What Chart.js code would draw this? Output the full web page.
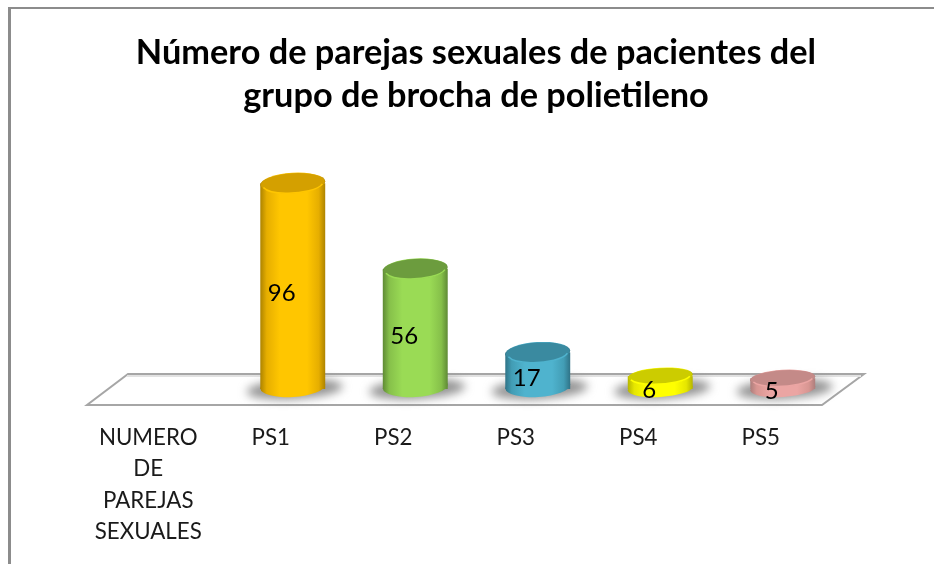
<!DOCTYPE html>
<html><head><meta charset="utf-8">
<style>html,body{margin:0;padding:0;background:#fff}#w{width:934px;height:564px;position:relative}</style>
<script src="https://cdn.jsdelivr.net/npm/chart.js@4"></script>
</head><body><div id="w"><canvas id="c" width="934" height="564"></canvas></div>
<script>
const categories = [['NUMERO','DE','PAREJAS','SEXUALES'],'PS1','PS2','PS3','PS4','PS5'];
const values = [null,96,56,17,6,5];
const titleLines = ['Número de parejas sexuales de pacientes del','grupo de brocha de polietileno'];
const brightColors = ['#000','#FFC600','#9ADB55','#4FB3CE','#FFFF00','#EBA5A3'];
const midColors    = ['#000','#E6AE00','#86C04A','#429DB5','#E6E600','#D89692'];
const edgeColors   = ['#000','#AD8300','#5F8A35','#2F7387','#B5B500','#AD7E7C'];
const capColors    = ['#000','#D4A000','#6C9C3E','#3A8AA0','#CCCC00','#C48A88'];

const depthX = 22, depthY = -16, rx = 32.5, tilt = -0.06;
function capRy(i){return values[i]<10 ? 8.5 : 10.5;}
function ell(ctx,x,y,a,b){ctx.beginPath();ctx.ellipse(x,y,a,b,tilt,0,Math.PI*2);}
function barsOf(chart){return chart.getDatasetMeta(0).data.map((el,i)=>({el,i})).filter(o=>values[o.i]!==null);}

const scene = {
  id:'scene',
  afterLayout(chart){ const t=chart.titleBlock; t.left=18; t.right=934; },
  beforeDraw(chart){
    const c=chart.ctx; c.save(); c.fillStyle='#8C8C8C';
    c.fillRect(8,7,926,2); c.fillRect(8,7,3,557); c.restore();
  },
  beforeDatasetsDraw(chart){
    const c=chart.ctx,a=chart.chartArea,y0=chart.scales.y.getPixelForValue(0);
    c.save();
    c.beginPath();c.moveTo(a.left,y0);c.lineTo(a.right,y0);c.lineTo(a.right+42,y0-31);c.lineTo(a.left+41,y0-31);c.closePath();
    c.fillStyle='#fff';c.fill();c.strokeStyle='#A6A6A6';c.lineWidth=2;c.stroke();
    c.strokeStyle='#E2E2E2';c.beginPath();c.moveTo(a.left+40,y0-29);c.lineTo(a.right+39,y0-29);c.stroke();
    c.restore();
  },
  beforeDatasetDraw(chart){
    const c=chart.ctx; c.save(); c.translate(depthX,depthY);
    barsOf(chart).forEach(({el,i})=>{
      const r=capRy(i);
      c.save();c.filter='blur(5px)';c.fillStyle='rgba(120,120,120,.8)';
      ell(c,el.x+2,el.base,48,10);c.fill();c.restore();
      c.fillStyle=el.options.backgroundColor;ell(c,el.x,el.base-(r===10.5?2.5:0.5),rx,r);c.fill();
    });
  },
  afterDatasetDraw(chart){
    const c=chart.ctx;
    barsOf(chart).forEach(({el,i})=>{
      const r=capRy(i);
      c.fillStyle=el.options.backgroundColor;ell(c,el.x,el.y,rx,r);c.fill();
      ell(c,el.x,el.y,rx-0.5,r-0.5);c.fillStyle=capColors[i];c.fill();
      c.beginPath();c.ellipse(el.x,el.y,rx-2,r-0.5,tilt,0.25,Math.PI-0.25);
      c.strokeStyle=brightColors[i];c.lineWidth=1.5;c.stroke();
    });
    c.restore();
    c.save();
    c.fillStyle='#000';c.font='24px Lato';c.textAlign='center';c.textBaseline='middle';
    const ys=chart.scales.y;
    barsOf(chart).forEach(({el,i})=>{
      const y=(ys.getPixelForValue(values[i])+ys.getPixelForValue(0))/2-8.5;
      c.fillText(String(values[i]),el.x+11,y);
    });
    c.restore();
  }
};

new Chart(document.getElementById('c'),{
  type:'bar',
  data:{labels:categories,datasets:[{data:values,categoryPercentage:1,barPercentage:0.53,borderWidth:0,
    backgroundColor(ctx){
      const chart=ctx.chart,i=ctx.dataIndex;
      if(!chart.chartArea||values[i]===null) return '#ccc';
      const x=chart.scales.x.getPixelForValue(i);
      const g=chart.ctx.createLinearGradient(x-rx,0,x+rx,0);
      g.addColorStop(0,edgeColors[i]);g.addColorStop(.1,midColors[i]);g.addColorStop(.3,brightColors[i]);
      g.addColorStop(.72,brightColors[i]);g.addColorStop(.9,midColors[i]);g.addColorStop(1,edgeColors[i]);
      return g;
    }}]},
  plugins:[scene],
  options:{
    responsive:false,animation:false,
    layout:{padding:{left:87,right:112,top:0,bottom:0}},
    plugins:{legend:{display:false},tooltip:{enabled:false},
      title:{display:true,text:titleLines,color:'#000',
        font:{family:'Lato',weight:'bold',size:34.3,lineHeight:43/34.3},padding:{top:31,bottom:35}}},
    scales:{
      y:{display:false,min:0,max:118},
      x:{grid:{display:false},border:{display:false},
        afterFit(s){s.height=159;},
        ticks:{autoSkip:false,maxRotation:0,minRotation:0,padding:9,color:'#1a1a1a',
          font:{family:'Lato',size:22.3,lineHeight:31.5/22.3}}}
    }
  }
});
</script></body></html>
